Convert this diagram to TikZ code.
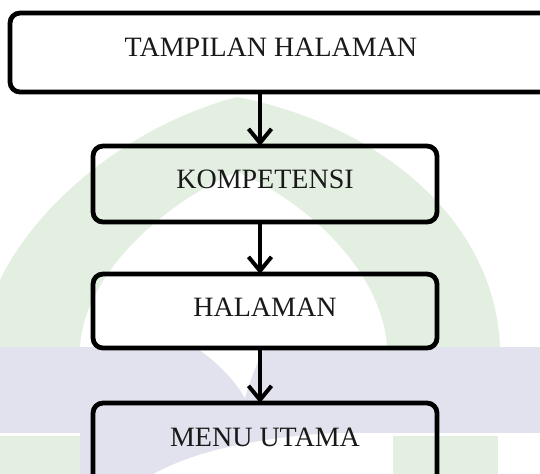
\documentclass[tikz,border=0pt]{standalone}
\usepackage{fontspec}
\setmainfont{Liberation Serif}
\usetikzlibrary{arrows.meta}
\definecolor{wmgreen}{RGB}{227,239,224}
\definecolor{wmblue}{RGB}{225,226,237}
\tikzset{
  flowbox/.style={draw=black, line width=2.4pt, rounded corners=5pt,
    inner sep=0pt, outer sep=0pt},
  flowlabel/.style={font=\fontsize{14}{16}\selectfont, text=black!90, inner sep=0pt},
  flowarrow/.style={line width=2pt, line cap=round,
    -{Straight Barb[length=7pt, width=11.5pt, line width=2pt]}}
}
\begin{document}
\begin{tikzpicture}[x=0.5pt, y=-0.5pt]
\useasboundingbox (0,0) rectangle (540,473);
\clip (0,0) rectangle (540,473);

% background emblem: green dome, blue band, green feet
\fill[wmgreen] (-20,347) .. controls (-10,240) and (110,130) .. (237,97)
  .. controls (380,125) and (495,220) .. (500,347) -- cycle;
\fill[white] (80,347) .. controls (85,270) and (170,200) .. (237,172)
  .. controls (304,200) and (382,270) .. (387,347) -- cycle;
\fill[wmblue] (-10,347) rectangle (550,433);
\fill[white] (195,347) .. controls (215,360) and (235,380) .. (245,398)
  .. controls (250,380) and (258,360) .. (265,347) -- cycle;
\fill[wmblue] (80,433) -- (80,480) -- (143,480)
  .. controls (190,450) and (260,438) .. (330,433) -- cycle;
\fill[wmgreen] (-10,436) rectangle (80,480);
\fill[wmgreen] (393,436) rectangle (498,480);

% flow boxes
\node[flowbox, minimum width=280pt, minimum height=39.5pt] (b1) at (290,52.5) {};
\node[flowbox, minimum width=172pt, minimum height=38pt] (b2) at (265,184) {};
\node[flowbox, minimum width=172pt, minimum height=37pt] (b3) at (265,311) {};
\node[flowbox, minimum width=172pt, minimum height=43.5pt] (b4) at (265,446.5) {};

% labels
\node[flowlabel] (t1) at (271,47) {TAMPILAN HALAMAN};
\node[flowlabel] (t2) at (265,179) {KOMPETENSI};
\node[flowlabel] (t3) at (265,307) {HALAMAN};
\node[flowlabel] (t4) at (265,437) {MENU UTAMA};

% connectors
\coordinate (ax) at (260,0);
\draw[flowarrow] (b1.south -| ax) -- (b2.north -| ax);
\draw[flowarrow] (b2.south -| ax) -- (b3.north -| ax);
\draw[flowarrow] (b3.south -| ax) -- (b4.north -| ax);
\end{tikzpicture}
\end{document}
